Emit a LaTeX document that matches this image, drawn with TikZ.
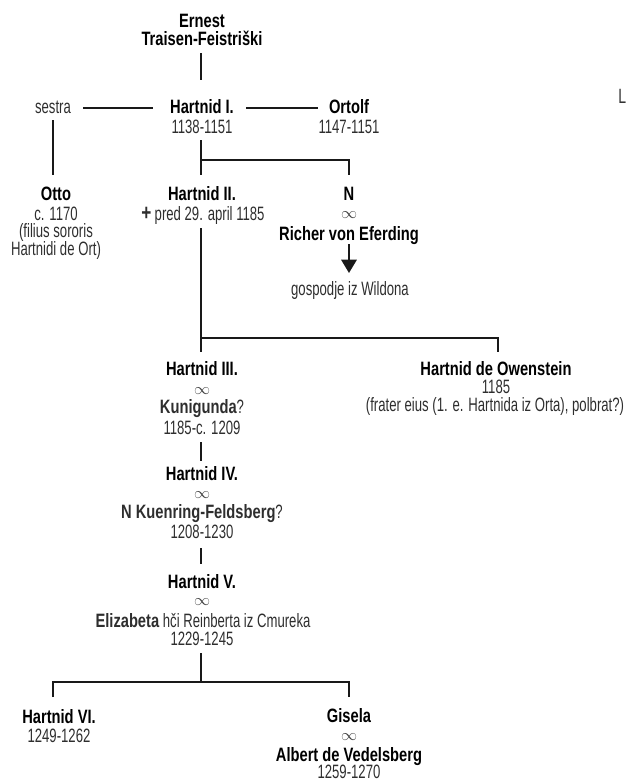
\documentclass[tikz,border=0pt]{standalone}
\usepackage{fontspec}
\setmainfont{Liberation Sans}
\newfontfamily\rgf{Liberation Sans}[FakeStretch=0.68]
\newfontfamily\bdf{Liberation Sans}[UprightFont={* Bold},FakeStretch=0.76]
\usetikzlibrary{arrows.meta}
\begin{document}
\begin{tikzpicture}[x=0.75pt,y=-0.75pt,
  nm/.style={font=\bdf\fontsize{14.5pt}{16pt}\selectfont, anchor=base, inner sep=0pt, text=black},
  tx/.style={font=\rgf\fontsize{14.5pt}{16pt}\selectfont, anchor=base, inner sep=0pt, text=black!82},
  mar/.style={font=\fontsize{12pt}{12pt}\selectfont, anchor=center, inner sep=0pt, text=black!75},
  ln/.style={line width=1.6pt, draw=black!90, line join=miter},
  arr/.style={ln, -{Triangle[width=11.5pt,length=10pt]}}]
\useasboundingbox (0,0) rectangle (625,782);

% ---- generation 0
\node[nm] (ernA) at (202,27) {Ernest};
\node[nm] (ernB) at (202,45) {Traisen-Feistriški};
\coordinate (ernDown) at (201,53);
\coordinate (h1Up) at (201,80);
\draw[ln] (ernDown) -- (h1Up);

% ---- generation 1
\node[tx] (sestra) at (53,113) {sestra};
\node[nm] (h1) at (202,113) {Hartnid I.};
\node[tx] (h1d) at (202,133) {1138-1151};
\node[nm] (ortolf) at (349,113) {Ortolf};
\node[tx] (ortolfd) at (349,133) {1147-1151};
\node[tx, text=black!80, font=\rgf\fontsize{15.5pt}{17pt}\selectfont, anchor=base west] (ltr) at (618,103) {L};

\coordinate (sR) at (83,108);
\coordinate (h1L) at (153,108);
\coordinate (h1R) at (246,108);
\coordinate (oL) at (318,108);
\draw[ln] (sR) -- (h1L);
\draw[ln] (h1R) -- (oL);

\coordinate (sDown) at (53,120);
\coordinate (ottoUp) at (53,175);
\draw[ln] (sDown) -- (ottoUp);

\coordinate (h1Down) at (201,140);
\coordinate (h2Up) at (201,175);
\coordinate (b1) at (201,160);
\coordinate (b1R) at (349,160);
\coordinate (nUp) at (349,175);
\draw[ln] (h1Down) -- (h2Up);
\draw[ln] (b1) -- (b1R) -- (nUp);

% ---- generation 2
\node[nm] (otto) at (56,200) {Otto};
\node[tx] (ottoa) at (56,220) {c. 1170};
\node[tx] (ottob) at (56,237) {(filius sororis};
\node[tx] (ottoc) at (56,255) {Hartnidi de Ort)};

\node[nm] (h2) at (202,200) {Hartnid II.};
\node[tx] (h2d) at (203,220) {{\bdf\fontsize{17pt}{17pt}\selectfont +}\,pred 29. april 1185};

\node[nm] (nn) at (349,200) {N};
\node[mar] (nm1) at (349,215) {$\infty$};
\node[nm] (richer) at (349,240) {Richer von Eferding};
\node[tx] (wild) at (350,295) {gospodje iz Wildona};
\coordinate (rDown) at (349,244);
\coordinate (wUp) at (349,273);
\draw[arr] (rDown) -- (wUp);

\coordinate (h2Down) at (201,228);
\coordinate (h3Up) at (201,352);
\coordinate (b2) at (201,338);
\coordinate (b2R) at (498,338);
\coordinate (owUp) at (498,352);
\draw[ln] (h2Down) -- (h3Up);
\draw[ln] (b2) -- (b2R) -- (owUp);

% ---- generation 3
\node[nm] (h3) at (202,375) {Hartnid III.};
\node[mar] (m3) at (202,391) {$\infty$};
\node[tx] (kun) at (202,413) {{\bdf Kunigunda}?};
\node[tx] (h3d) at (202,434) {1185-c. 1209};

\node[nm] (ow) at (496,375) {Hartnid de Owenstein};
\node[tx] (owd) at (496,393) {1185};
\node[tx] (owc) at (495,411) {(frater eius (1. e. Hartnida iz Orta), polbrat?)};

\coordinate (h3Down) at (201,442);
\coordinate (h4Up) at (201,461);
\draw[ln] (h3Down) -- (h4Up);

% ---- generation 4
\node[nm] (h4) at (202,480) {Hartnid IV.};
\node[mar] (m4) at (202,495) {$\infty$};
\node[tx] (kue) at (202,518) {{\bdf N Kuenring-Feldsberg}?};
\node[tx] (h4d) at (202,538) {1208-1230};

\coordinate (h4Down) at (201,548);
\coordinate (h5Up) at (201,564);
\draw[ln] (h4Down) -- (h5Up);

% ---- generation 5
\node[nm] (h5) at (202,588) {Hartnid V.};
\node[mar] (m5) at (202,602) {$\infty$};
\node[tx] (eli) at (203,627) {{\bdf Elizabeta} hči Reinberta iz Cmureka};
\node[tx] (h5d) at (202,645) {1229-1245};

\coordinate (h5Down) at (201,653);
\coordinate (b5) at (201,682);
\coordinate (b5L) at (53,682);
\coordinate (b5R) at (349,682);
\coordinate (h6Up) at (53,697);
\coordinate (gUp) at (349,697);
\draw[ln] (h5Down) -- (b5);
\draw[ln] (h6Up) -- (b5L) -- (b5R) -- (gUp);

% ---- generation 6
\node[nm] (h6) at (59,723) {Hartnid VI.};
\node[tx] (h6d) at (59,742) {1249-1262};

\node[nm] (gis) at (349,722) {Gisela};
\node[mar] (m6) at (349,737) {$\infty$};
\node[nm] (alb) at (349,761) {Albert de Vedelsberg};
\node[tx] (albd) at (349,778) {1259-1270};
\end{tikzpicture}
\end{document}
